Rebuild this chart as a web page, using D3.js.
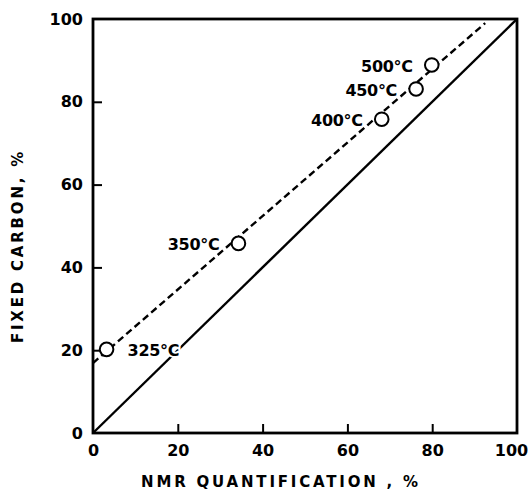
<!DOCTYPE html>
<html>
<head>
<meta charset="utf-8">
<script src="https://cdn.jsdelivr.net/npm/d3@7"></script>
<style>
  body { margin: 0; background: #fff; }
  text { font-family: "DejaVu Sans", sans-serif; font-weight: bold; fill: #000; }
</style>
</head>
<body>
<svg id="chart" width="529" height="499"></svg>
<script>
// data
var temps = ["325°C", "350°C", "400°C", "450°C", "500°C"];
var nmr = [3.2, 34.3, 68.1, 76.2, 79.9];
var fixedCarbon = [20.2, 45.8, 75.8, 83.1, 88.9];
var fitLine = [[0, 16.9], [92.5, 99]];
var parity = [[0, 0], [100, 100]];
var ticks = [0, 20, 40, 60, 80, 100];

var svg = d3.select("#chart");
var margin = { top: 19, right: 12, bottom: 66, left: 93 };
var w = 529 - margin.left - margin.right,
    h = 499 - margin.top - margin.bottom;

var x = d3.scaleLinear().domain([0, 100]).range([0, w]);
var y = d3.scaleLinear().domain([0, 100]).range([h, 0]);

var g = svg.append("g").attr("transform", `translate(${margin.left},${margin.top})`);

var points = temps.map((t, i) => ({ temp: t, x: nmr[i], y: fixedCarbon[i] }));

var line = d3.line().x(d => x(d[0])).y(d => y(d[1]));

// y = x line
g.append("path")
    .attr("d", line(parity))
    .attr("fill", "none")
    .attr("stroke", "#000")
    .attr("stroke-width", 2.4);

// dashed fit
g.append("path")
    .attr("d", line(fitLine))
    .attr("fill", "none")
    .attr("stroke", "#000")
    .attr("stroke-width", 2.4)
    .attr("stroke-dasharray", "7,4");

// axes, ticks pointing inward
var xAxis = d3.axisBottom(x).tickValues(ticks).tickSize(-9).tickPadding(12);
var yAxis = d3.axisLeft(y).tickValues(ticks).tickSize(-9).tickPadding(10);

var gx = g.append("g").attr("transform", `translate(0,${h})`).call(xAxis);
var gy = g.append("g").call(yAxis);

[gx, gy].forEach(a => {
    a.select(".domain").remove();
    a.selectAll(".tick line").attr("stroke", "#000").attr("stroke-width", 2);
    a.selectAll(".tick text").style("font-size", "16px").attr("fill", "#000");
    a.selectAll(".tick").filter(d => d === 0 || d === 100).select("line").remove();
});
gx.selectAll(".tick").filter(d => d === 100).select("text").attr("dx", -6);

// frame
g.append("rect")
    .attr("width", w).attr("height", h)
    .attr("fill", "none")
    .attr("stroke", "#000")
    .attr("stroke-width", 2.8);

// labels with white knockout
g.selectAll(".lbl")
    .data(points)
    .join("text")
    .attr("class", "lbl")
    .attr("x", d => x(d.x) + (d.temp === "325°C" ? 21 : -19))
    .attr("y", d => y(d.y) + 1)
    .attr("dy", "0.36em")
    .attr("text-anchor", d => d.temp === "325°C" ? "start" : "end")
    .style("font-size", "16px")
    .style("letter-spacing", "-0.3px")
    .attr("stroke", "#fff")
    .attr("stroke-width", 4)
    .attr("paint-order", "stroke")
    .text(d => d.temp);

// markers
g.selectAll("circle")
    .data(points)
    .join("circle")
    .attr("cx", d => x(d.x))
    .attr("cy", d => y(d.y))
    .attr("r", 6.8)
    .attr("fill", "#fff")
    .attr("stroke", "#000")
    .attr("stroke-width", 2);

// axis titles
svg.append("text")
    .attr("x", 281)
    .attr("y", 487)
    .attr("text-anchor", "middle")
    .style("font-size", "15px")
    .style("letter-spacing", "2.8px")
    .text("NMR QUANTIFICATION ,  %");

svg.append("text")
    .attr("transform", "translate(23,246) rotate(-90)")
    .attr("text-anchor", "middle")
    .style("font-size", "15px")
    .style("letter-spacing", "2.8px")
    .text("FIXED CARBON,  %");
</script>
</body>
</html>
